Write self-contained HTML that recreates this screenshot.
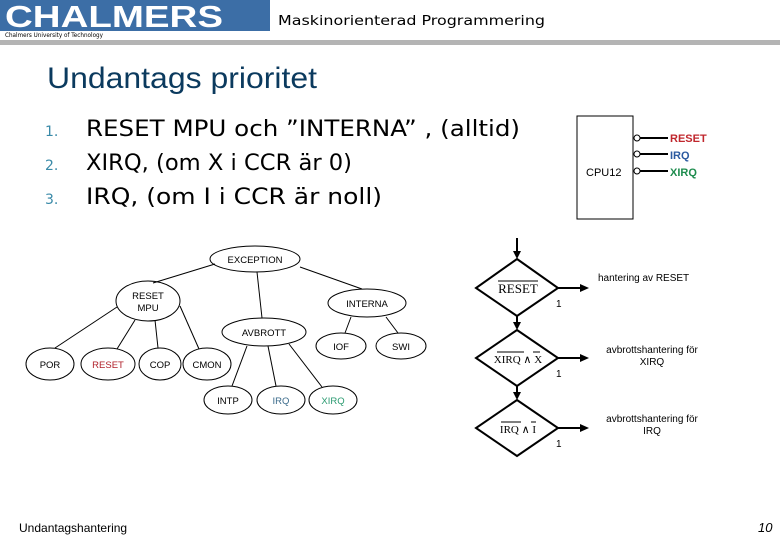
<!DOCTYPE html>
<html><head><meta charset="utf-8"><style>
html,body{margin:0;padding:0;background:#fff;}
svg{display:block}
</style></head><body>
<svg width="780" height="540" viewBox="0 0 780 540" xmlns="http://www.w3.org/2000/svg" font-family="DejaVu Sans, Liberation Sans, sans-serif">
<rect x="0" y="0" width="270" height="31" fill="#3c6ea6"/>
<text x="5" y="27" font-family="Liberation Sans" font-weight="bold" font-size="31" fill="#fff" textLength="218" lengthAdjust="spacingAndGlyphs">CHALMERS</text>
<text x="5" y="37" font-size="6" fill="#000" textLength="98" lengthAdjust="spacingAndGlyphs">Chalmers University of Technology</text>
<text x="278" y="25" font-size="13" fill="#000" textLength="267" lengthAdjust="spacingAndGlyphs">Maskinorienterad Programmering</text>
<rect x="0" y="40" width="780" height="5" fill="#b4b4b4"/>
<text x="47" y="88" font-size="30" fill="#0b3a5e" font-family="Liberation Sans" textLength="270" lengthAdjust="spacingAndGlyphs">Undantags prioritet</text>
<g font-size="14" fill="#3a8aa8"><text x="45" y="136">1.</text><text x="45" y="170">2.</text><text x="45" y="204">3.</text></g>
<g font-size="22" fill="#000">
<text x="86" y="136" textLength="434" lengthAdjust="spacingAndGlyphs">RESET MPU och ”INTERNA” , (alltid)</text>
<text x="86" y="170" textLength="266" lengthAdjust="spacingAndGlyphs">XIRQ, (om X i CCR är 0)</text>
<text x="86" y="204" textLength="296" lengthAdjust="spacingAndGlyphs">IRQ, (om I i CCR är noll)</text>
</g>
<!-- CPU12 -->
<rect x="577" y="116" width="56" height="103" fill="#fff" stroke="#000" stroke-width="1"/>
<text x="586" y="176" font-size="11" font-family="Liberation Sans">CPU12</text>
<g stroke="#000" fill="#fff"><circle cx="637" cy="138" r="3"/><circle cx="637" cy="154" r="3"/><circle cx="637" cy="171" r="3"/></g>
<g stroke="#000" stroke-width="2"><line x1="640" y1="138" x2="668" y2="138"/><line x1="640" y1="154" x2="668" y2="154"/><line x1="640" y1="171" x2="668" y2="171"/></g>
<g font-family="Liberation Sans" font-weight="bold" font-size="11"><text x="670" y="142" fill="#c0272d">RESET</text><text x="670" y="159" fill="#2c5aa0">IRQ</text><text x="670" y="176" fill="#1e8c4e">XIRQ</text></g>
<!-- tree -->
<g stroke="#000" stroke-width="1" fill="none">
<line x1="215" y1="264" x2="153" y2="283"/><line x1="257" y1="272" x2="262" y2="318"/><line x1="300" y1="267" x2="362" y2="289"/>
<line x1="117" y1="307" x2="55" y2="348"/><line x1="135" y1="320" x2="117" y2="349"/><line x1="155" y1="320" x2="158" y2="348"/><line x1="180" y1="306" x2="199" y2="349"/>
<line x1="247" y1="346" x2="232" y2="386"/><line x1="268" y1="346" x2="276" y2="386"/><line x1="289" y1="344" x2="322" y2="387"/>
<line x1="351" y1="317" x2="345" y2="333"/><line x1="386" y1="317" x2="398" y2="333"/>
<ellipse cx="255" cy="259" rx="45" ry="13"/><ellipse cx="148" cy="301" rx="32" ry="20"/><ellipse cx="367" cy="303" rx="39" ry="14"/>
<ellipse cx="264" cy="332" rx="42" ry="14"/><ellipse cx="341" cy="346" rx="25" ry="13"/><ellipse cx="401" cy="346" rx="25" ry="13"/>
<ellipse cx="50" cy="364" rx="24" ry="16"/><ellipse cx="108" cy="364" rx="27" ry="16"/><ellipse cx="160" cy="364" rx="21" ry="16"/><ellipse cx="207" cy="364" rx="24" ry="16"/>
<ellipse cx="228" cy="400" rx="24" ry="14"/><ellipse cx="281" cy="400" rx="24" ry="14"/><ellipse cx="333" cy="400" rx="24" ry="14"/>
</g>
<g font-family="Liberation Sans" font-size="9.5" text-anchor="middle" fill="#000">
<text x="255" y="263">EXCEPTION</text><text x="148" y="299">RESET</text><text x="148" y="311">MPU</text><text x="367" y="307">INTERNA</text>
<text x="264" y="336">AVBROTT</text><text x="341" y="350">IOF</text><text x="401" y="350">SWI</text>
<text x="50" y="368">POR</text><text x="108" y="368" fill="#b0202a">RESET</text><text x="160" y="368">COP</text><text x="207" y="368">CMON</text>
<text x="228" y="404">INTP</text><text x="281" y="404" fill="#3a6a8a">IRQ</text><text x="333" y="404" fill="#2a9a70">XIRQ</text>
</g>
<!-- flowchart -->
<g stroke="#000" stroke-width="2" fill="none">
<line x1="517" y1="238" x2="517" y2="256"/>
<polygon points="517,259 558,288 517,316 476,288"/>
<line x1="517" y1="316" x2="517" y2="328"/>
<polygon points="517,330 558,358 517,386 476,358"/>
<line x1="517" y1="386" x2="517" y2="398"/>
<polygon points="517,400 558,428 517,456 476,428"/>
<line x1="558" y1="288" x2="583" y2="288"/><line x1="558" y1="358" x2="583" y2="358"/><line x1="558" y1="428" x2="583" y2="428"/>
</g>
<g fill="#000">
<polygon points="513,251 521,251 517,259"/><polygon points="513,322 521,322 517,330"/><polygon points="513,392 521,392 517,400"/>
<polygon points="580,284 589,288 580,292"/><polygon points="580,354 589,358 580,362"/><polygon points="580,424 589,428 580,432"/>
</g>
<g font-family="Liberation Serif" font-size="13" text-anchor="middle" fill="#000">
<text x="518" y="293">RESET</text><line x1="498" y1="281" x2="538" y2="281" stroke="#000" stroke-width="1"/>
<text x="518" y="363" font-size="11">XIRQ ∧ X</text><line x1="497" y1="352" x2="524" y2="352" stroke="#000"/><line x1="533" y1="352" x2="540" y2="352" stroke="#000"/>
<text x="518" y="433" font-size="11">IRQ ∧ I</text><line x1="501" y1="422" x2="521" y2="422" stroke="#000"/><line x1="531" y1="422" x2="536" y2="422" stroke="#000"/>
</g>
<g font-family="Liberation Sans" font-size="10" fill="#000">
<text x="556" y="307">1</text><text x="556" y="377">1</text><text x="556" y="447">1</text>
<text x="598" y="281">hantering av RESET</text>
<text x="652" y="353" text-anchor="middle">avbrottshantering för</text><text x="652" y="365" text-anchor="middle">XIRQ</text>
<text x="652" y="422" text-anchor="middle">avbrottshantering för</text><text x="652" y="434" text-anchor="middle">IRQ</text>
</g>
<text x="19" y="532" font-family="Liberation Sans" font-size="12">Undantagshantering</text>
<text x="758" y="532" font-family="Liberation Sans" font-style="italic" font-size="13">10</text>
</svg>
</body></html>
